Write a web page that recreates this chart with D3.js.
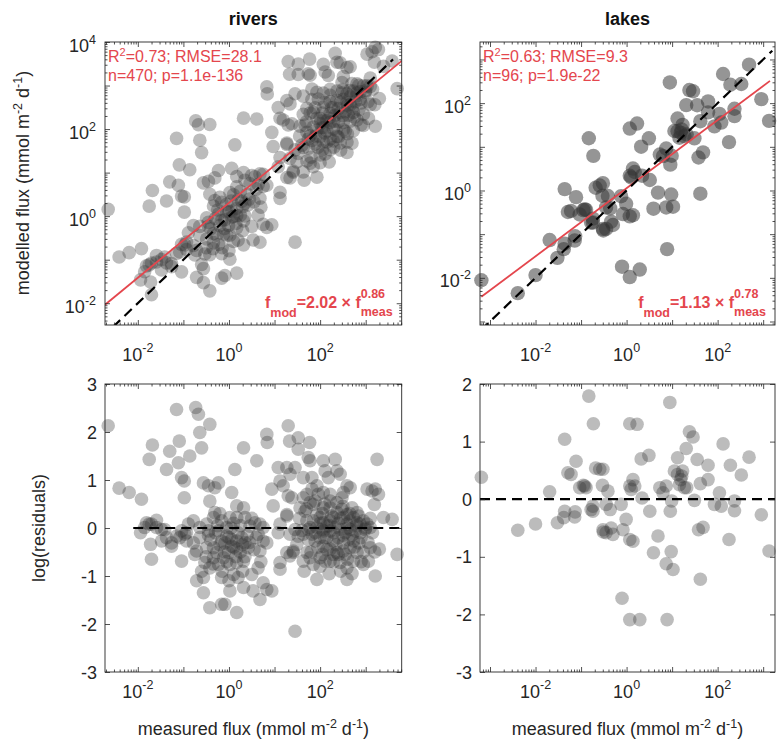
<!DOCTYPE html>
<html><head><meta charset="utf-8">
<script src="https://cdn.jsdelivr.net/npm/d3@7/dist/d3.min.js"></script>
<style>
body{margin:0;background:#fff}
text{font-family:"Liberation Sans",Arial,Helvetica,sans-serif}
</style>
</head><body>
<svg id="chart" width="784" height="747"></svg>
<script>
// ---------------- data (log10 of measured flux, log10 residual to fit) ----------------
const panelTitles = ["rivers", "lakes"];
const fitA = [2.02, 1.13];
const fitB = [0.86, 0.78];
const r2Text = ["0.73", "0.63"];
const rmseText = ["28.1", "9.3"];
const nText = ["470", "96"];
const pText = ["1.1e-136", "1.9e-22"];
const xTickExp = [-2, 0, 2];
const yFluxTickExp = [[-2, 0, 2, 4], [-2, 0, 2]];
const yResTicks = [[-3, -2, -1, 0, 1, 2, 3], [-3, -2, -1, 0, 1, 2]];

const riversPoints = [
[-2.65,2.13],[-2.41,0.83],[-2.19,0.74],[-1.92,0.60],[-1.94,-0.10],[-1.75,1.43],[-1.68,1.73],[-1.75,0.08],[-1.72,-0.34],[-1.70,-0.65],
[-1.59,0.16],[-1.48,-0.03],[-1.37,1.22],[-1.30,1.60],[-1.26,-0.31],[-1.15,2.47],[-1.11,1.36],[-1.09,1.81],[-1.04,1.05],[-0.98,0.98],
[-0.98,0.63],[-1.08,-0.20],[-1.04,-0.69],[-0.89,0.08],[-0.86,1.50],[-0.97,-0.13],[-0.73,2.51],[-0.67,2.37],[-0.64,1.99],[-0.60,1.67],
[-0.42,2.16],[-0.56,0.94],[-0.45,0.88],[-0.31,0.84],[-0.23,0.94],[-0.42,0.56],[0.06,0.74],[0.13,1.22],[0.32,1.67],[0.61,1.40],
[0.83,1.95],[0.84,1.78],[0.94,0.81],[0.97,0.46],[1.30,2.13],[1.33,1.81],[1.52,1.88],[1.77,1.78],[1.52,1.64],[1.08,1.26],
[1.12,0.98],[1.27,1.26],[1.34,1.12],[1.45,1.26],[1.63,1.05],[1.74,1.47],[1.78,1.40],[1.82,1.05],[1.19,0.88],[1.30,0.67],
[1.38,0.63],[1.27,0.28],[2.07,1.40],[2.11,1.19],[2.18,1.05],[2.33,1.43],[2.37,1.19],[2.44,1.12],[1.93,0.88],[2.07,0.74],
[2.22,0.70],[2.48,0.63],[2.59,0.88],[2.66,0.84],[2.51,0.74],[3.03,0.81],[3.14,0.77],[3.21,0.81],[3.25,1.43],[3.19,0.49],
[3.28,0.70],[3.39,0.22],[3.58,0.18],[3.69,-0.55],[3.21,-1.00],[3.30,-0.44],[3.10,-0.41],[2.95,-0.76],[2.59,-1.07],[1.93,-1.07],
[1.45,-2.15],[1.12,-0.86],[1.12,-0.72],[3.06,-0.69],
[-0.56,-1.03],[-0.71,-1.10],[-0.56,-1.35],[-0.42,-1.66],[-0.16,-1.59],[-0.09,-1.59],[0.17,-1.76],[0.02,-1.31],[0.32,-1.24],[0.20,-1.03],
[0.10,-0.97],[0.50,-0.97],[0.53,-1.31],[0.68,-1.49],[0.64,-0.83],[0.75,-1.14],[0.83,-1.28],[0.94,-1.31],[-0.42,-0.83],[-0.53,-0.72],
[-0.75,-0.55],[-0.71,-0.48],[-0.49,-0.41],[-0.34,-0.62],[-0.23,-0.76],[-0.16,-1.03],[-0.12,-0.62],[-0.01,-0.51],[0.02,-0.76],[-0.09,-0.31],
[-0.16,-0.27],[-0.05,-0.17],[0.06,-0.24],[0.17,-0.27],[0.28,-0.20],[0.35,-0.31],[0.42,-0.41],[0.17,-0.44],[0.06,-0.38],[-0.05,0.01],
[-0.16,0.15],[0.02,0.22],[0.17,0.22],[0.32,0.42],[0.17,0.46],[0.35,0.22],[0.46,0.04],[0.57,0.11],[0.68,0.08],[0.75,0.01],
[0.64,-0.13],[0.75,-0.27],[0.68,-0.48],[0.83,-0.31],[-0.49,0.08],[-0.45,-0.06],[-0.34,0.22],[-0.31,0.32],[-0.23,-0.06],[-0.64,0.01],
[-0.64,-0.20],[-0.78,-0.31],[-0.93,-0.27],[-1.04,-0.06],[-1.26,-0.38],[-1.37,-0.20],[-1.48,-0.27],[-1.70,0.08],[-1.81,0.11],[-1.85,0.01],
[-1.59,0.01],[-1.41,-0.03],[-1.15,-0.17],[-0.93,-0.10],[-0.78,0.15],[0.17,-0.72],[0.32,-0.69],[-0.34,-0.41],[-0.27,-0.51],
[1.08,-0.10],[1.12,0.08],[1.27,0.25],[1.34,-0.13],[1.41,-0.48],[1.34,-0.58],[1.49,-0.34],[1.56,0.42],[1.63,0.63],[1.67,0.35],
[1.71,0.15],[1.78,0.01],[1.85,0.49],[1.89,0.56],[1.93,0.28],[2.00,0.22],[2.07,0.11],[1.82,-0.13],[1.89,-0.27],[2.00,-0.20],
[2.07,-0.06],[2.15,0.04],[2.22,0.15],[2.29,0.22],[2.37,0.32],[2.48,0.39],[2.51,0.22],[2.59,0.08],[2.66,0.15],[2.73,0.22],
[2.81,0.11],[2.88,0.08],[2.95,0.15],[3.03,0.08],[2.22,-0.06],[2.33,0.01],[2.44,-0.03],[2.55,-0.10],[2.66,-0.03],[2.77,-0.06],
[2.88,-0.10],[2.99,-0.03],[3.10,0.01],[2.15,-0.20],[2.29,-0.27],[2.40,-0.20],[2.51,-0.31],[2.62,-0.24],[2.73,-0.27],[2.85,-0.31],
[2.07,-0.38],[2.22,-0.44],[2.37,-0.51],[2.51,-0.48],[2.66,-0.41],[2.81,-0.51],[2.00,-0.62],[2.11,-0.69],[2.29,-0.55],[1.71,-0.51],
[1.78,-0.62],[1.63,-0.69],[1.41,-0.51],[1.27,-0.51],[1.85,-0.76],[2.22,-0.69],[2.44,-0.72],[2.59,-0.83],[2.73,-0.69],[1.93,0.01],
[2.04,-0.03],[1.74,-0.03],[1.63,-0.13],[1.52,-0.17],[1.45,-0.03],[2.07,0.42],[2.22,0.42],[2.37,0.53],[2.70,0.42],[2.59,0.28],
[2.81,0.32],[1.78,0.53],[1.71,0.70],[1.82,0.81],[1.96,0.70],[2.22,0.56],
[-0.30,-0.10],[-0.20,-0.35],[-0.10,-0.50],[0.00,-0.20],[0.10,-0.40],[0.20,-0.10],[0.30,-0.35],[0.40,-0.15],[-0.25,0.05],[0.05,0.00],
[0.15,-0.60],[0.25,-0.50],[-0.40,-0.25],[-0.05,-0.70],[0.35,-0.60],[0.45,-0.30],[0.55,-0.45],[0.60,-0.20],[-0.15,-0.90],[-0.35,-0.75],
[0.00,-1.10],[0.30,-0.90],[-0.50,-0.60],[-0.60,-0.90],[0.70,-0.70],[0.10,0.10],[-0.20,0.30],[0.25,0.05],[-0.45,-0.15],[0.50,0.20],
[1.90,-0.10],[2.00,0.10],[2.10,-0.20],[2.20,0.05],[2.30,-0.10],[2.40,0.10],[2.50,-0.15],[2.60,0.00],[2.70,-0.15],[2.80,0.05],
[2.90,-0.20],[3.00,0.00],[1.95,-0.40],[2.15,-0.45],[2.35,-0.35],[2.55,-0.55],[2.75,-0.40],[2.95,-0.50],[2.05,0.30],[2.25,0.25],
[2.45,0.20],[2.65,0.30],[2.85,0.25],[1.85,0.15],[1.75,-0.25],[1.80,-0.50],[2.00,-0.80],[2.30,-0.70],[2.60,-0.65],[2.90,-0.70],
[3.05,-0.30],[3.15,-0.10],[1.60,-0.05],[1.55,0.20],[1.70,0.40],[2.10,0.50],[2.50,0.45],[2.20,-0.95],[2.45,-0.90],[2.70,-0.95],
[1.65,-0.90],[3.10,0.20],[3.20,-0.50],[2.05,-0.55],[2.40,-0.55]
];

const lakesPoints = [
[-3.19,0.38],[-2.39,-0.54],[-2.00,-0.43],[-1.69,0.13],[-1.52,-0.41],[-1.38,-0.32],[-1.36,1.04],[-1.14,-0.31],[-1.13,-0.22],[-1.36,-0.21],
[-1.29,0.46],[-1.22,0.43],[-1.11,0.66],[-1.03,0.20],[-0.92,0.23],[-0.89,0.20],[-0.83,1.79],[-0.73,1.31],[-0.68,0.54],[-0.59,0.52],
[-0.52,0.52],[-0.74,-0.12],[-0.74,-0.21],[-0.53,0.24],[-0.41,0.14],[-0.45,-0.09],[-0.36,-0.18],[-0.52,-0.53],[-0.45,-0.58],[-0.30,-0.61],
[-0.12,-0.09],[-0.08,-0.53],[-0.01,-0.35],[0.07,-0.70],[0.14,-0.73],[0.10,0.17],[0.14,0.34],[0.07,0.23],[0.18,0.23],[0.07,1.31],
[0.23,1.30],[-0.10,-1.72],[0.07,-2.09],[0.29,-2.09],[0.32,0.70],[0.49,0.76],[0.34,0.02],[0.51,-0.21],[0.69,-0.64],[0.59,-0.93],
[0.73,0.20],[0.80,0.11],[0.87,0.23],[0.95,1.68],[0.96,-0.21],[0.99,-0.03],[0.98,-0.91],[0.87,-1.12],[1.02,-1.22],[0.89,-2.09],
[1.05,0.49],[1.12,0.72],[1.16,0.25],[1.23,0.49],[1.19,0.34],[1.27,0.20],[1.31,0.88],[1.38,1.17],[1.46,1.08],[1.49,-0.02],
[1.55,0.69],[1.62,0.27],[1.58,-0.53],[1.68,-0.49],[1.62,-1.39],[1.79,0.59],[1.79,0.34],[1.93,-0.09],[2.04,0.11],[2.08,-0.12],
[2.12,0.96],[2.28,0.59],[2.25,-0.70],[2.37,-0.03],[2.37,-0.20],[2.52,0.42],[2.69,0.73],[2.96,-0.27],[3.13,-0.90],[-0.34,-0.50],
[1.12,0.43],[-0.95,0.24],[-0.78,-0.18],[-0.51,-0.57],[1.21,0.40],[1.32,0.20]
];
const pointSets = [riversPoints, lakesPoints];

// ---------------- layout ----------------
const svg = d3.select("#chart");
const RED = "#e4464d";
const INK = "#262626";
const colX = [[105, 401.7], [480, 775]];
const rowTop = [42, 325];
const rowBot = [384, 672];
const xDom = [[-2.72, 3.79], [-3.22, 3.26]];
const yTopDom = [[-2.5, 4.0], [-3.08, 3.4]];
const yBotDom = [[-3, 3], [-3, 2]];
const oneToOne = [[-2.8, 3.6], [-3.2, 3.2]];
const fitSpan = [[-2.72, 3.79], [-3.19, 3.15]];
const zeroSpan = [[-2.1, 3.79], [-3.22, 3.26]];
const topAlpha = [0.33, 0.52];
const botAlpha = [0.32, 0.33];

function rich(parent, x, y, parts, o) {
  const t = parent.append("text").attr("x", x).attr("y", y)
    .attr("font-size", o.size).attr("text-anchor", o.anchor || "start")
    .attr("fill", o.fill || INK);
  if (o.weight) t.attr("font-weight", o.weight);
  if (o.rotate) t.attr("transform", `rotate(-90,${x},${y})`);
  let cur = 0;
  parts.forEach(([s, k]) => {
    const off = k === 1 ? -o.sup : (k === -1 ? o.sub : 0);
    t.append("tspan").attr("dy", off - cur).attr("font-size", k ? o.small : o.size).text(s);
    cur = off;
  });
  return t;
}

function decadeTicks(d) {
  const major = [], minor = [];
  for (let k = Math.floor(d[0]) - 1; k <= Math.ceil(d[1]); k++) {
    if (k >= d[0] && k <= d[1]) major.push(Math.pow(10, k));
    for (let m = 2; m <= 9; m++) {
      const v = Math.log10(m) + k;
      if (v >= d[0] && v <= d[1]) minor.push(Math.pow(10, v));
    }
  }
  return { major, minor };
}

function drawTicks(g, scale, orient, pos, values, len) {
  const ax = (orient === "bottom" ? d3.axisBottom : orient === "top" ? d3.axisTop :
              orient === "left" ? d3.axisLeft : d3.axisRight)(scale)
    .tickValues(values).tickSize(-len).tickFormat("");
  const tr = (orient === "bottom" || orient === "top") ? `translate(0,${pos})` : `translate(${pos},0)`;
  const a = g.append("g").attr("transform", tr).call(ax);
  a.select(".domain").remove();
  a.selectAll("line").attr("stroke", INK).attr("stroke-width", 0.8);
}

function frame(g, xs, ys, xd, yd, yIsLog, yTicksLin) {
  const [x0, x1] = xs.range(), [y1, y0] = ys.range();
  const xt = decadeTicks(xd);
  [["bottom", y1], ["top", y0]].forEach(([o, p]) => {
    drawTicks(g, xs, o, p, xt.major, 5);
    drawTicks(g, xs, o, p, xt.minor, 2.5);
  });
  [["left", x0], ["right", x1]].forEach(([o, p]) => {
    if (yIsLog) {
      const yt = decadeTicks(yd);
      drawTicks(g, ys, o, p, yt.major, 5);
      drawTicks(g, ys, o, p, yt.minor, 2.5);
    } else {
      drawTicks(g, ys, o, p, yTicksLin, 5);
    }
  });
  g.append("rect").attr("x", x0).attr("y", y0).attr("width", x1 - x0).attr("height", y1 - y0)
    .attr("fill", "none").attr("stroke", INK).attr("stroke-width", 0.9);
}

const lab = { size: 18, small: 12.5, sup: 8 };

[0, 1].forEach(i => {
  const pts = pointSets[i];
  const xd = xDom[i];
  const xs = d3.scaleLog().domain([Math.pow(10, xd[0]), Math.pow(10, xd[1])]).range(colX[i]);
  const ysT = d3.scaleLog().domain([Math.pow(10, yTopDom[i][0]), Math.pow(10, yTopDom[i][1])]).range([rowTop[1], rowTop[0]]);
  const ysB = d3.scaleLinear().domain(yBotDom[i]).range([rowBot[1], rowBot[0]]);
  const a = fitA[i], b = fitB[i];
  const fitLog = x => Math.log10(a) + b * x;
  const inside = (v, d) => v >= d[0] && v <= d[1];

  // ----- top panel -----
  const gT = svg.append("g");
  const cid = "clipT" + i;
  svg.append("clipPath").attr("id", cid).append("rect")
    .attr("x", colX[i][0]).attr("y", rowTop[0])
    .attr("width", colX[i][1] - colX[i][0]).attr("height", rowTop[1] - rowTop[0]);

  gT.append("g").selectAll("circle")
    .data(pts.filter(d => inside(d[0], xd) && inside(fitLog(d[0]) + d[1], yTopDom[i])))
    .join("circle")
    .attr("cx", d => xs(Math.pow(10, d[0])))
    .attr("cy", d => ysT(Math.pow(10, fitLog(d[0]) + d[1])))
    .attr("r", i === 0 ? 6.8 : 7.2)
    .attr("fill", "#333").attr("fill-opacity", topAlpha[i]);

  const lineT = d3.line().x(d => xs(d[0])).y(d => ysT(d[1]));
  gT.append("path").attr("clip-path", `url(#${cid})`)
    .attr("d", lineT(fitSpan[i].map(x => [Math.pow(10, x), Math.pow(10, fitLog(x))])))
    .attr("stroke", RED).attr("stroke-width", 1.8).attr("fill", "none");
  gT.append("path").attr("clip-path", `url(#${cid})`)
    .attr("d", lineT(oneToOne[i].map(x => [Math.pow(10, x), Math.pow(10, x)])))
    .attr("stroke", "#000").attr("stroke-width", 2.2).attr("stroke-dasharray", "10,6").attr("fill", "none");

  frame(gT, xs, ysT, xd, yTopDom[i], true);

  // tick labels
  xTickExp.forEach(k => {
    rich(gT, xs(Math.pow(10, k)), 361, [["10", 0], [String(k), 1]],
      Object.assign({ anchor: "middle" }, lab, { sup: 9 }));
  });
  yFluxTickExp[i].forEach(k => {
    rich(gT, colX[i][0] - 9, ysT(Math.pow(10, k)) + 9.5, [["10", 0], [String(k), 1]],
      Object.assign({ anchor: "end" }, lab, { sup: 8 }));
  });

  // title
  gT.append("text").attr("x", (colX[i][0] + colX[i][1]) / 2).attr("y", 25)
    .attr("text-anchor", "middle").attr("font-size", 18).attr("font-weight", "bold")
    .attr("fill", "#111").text(panelTitles[i]);

  // stats
  rich(gT, colX[i][0] + 3, 62, [["R", 0], ["2", 1], ["=" + r2Text[i] + "; RMSE=" + rmseText[i], 0]],
    { size: 16, small: 11, sup: 6, fill: RED });
  gT.append("text").attr("x", colX[i][0] + 3).attr("y", 81).attr("font-size", 16)
    .attr("fill", RED).text("n=" + nText[i] + "; p=" + pText[i]);

  // formula
  const fg = gT.append("g").attr("fill", RED).attr("font-weight", "bold");
  const pieces = [
    { s: "f", size: 16, dy: 0 },
    { s: "mod", size: 12.5, dy: 8.5 },
    { s: "=" + a.toFixed(2) + " \u00d7 f", size: 16, dy: 0 },
  ];
  const els = pieces.map(p => fg.append("text").attr("font-size", p.size).text(p.s));
  const sup = fg.append("text").attr("font-size", 12.5).text(b.toFixed(2));
  const sub = fg.append("text").attr("font-size", 12.5).text("meas");
  const widths = els.map(e => e.node().getComputedTextLength());
  const stackW = Math.max(sup.node().getComputedTextLength(), sub.node().getComputedTextLength());
  const total = d3.sum(widths) + stackW;
  let xc = colX[i][1] - 9 - total;
  const base = 308;
  els.forEach((e, j) => { e.attr("x", xc).attr("y", base + pieces[j].dy); xc += widths[j]; });
  sup.attr("x", xc).attr("y", base - 10);
  sub.attr("x", xc).attr("y", base + 8);

  // ----- bottom panel -----
  const gB = svg.append("g");
  const cidB = "clipB" + i;
  svg.append("clipPath").attr("id", cidB).append("rect")
    .attr("x", colX[i][0]).attr("y", rowBot[0])
    .attr("width", colX[i][1] - colX[i][0]).attr("height", rowBot[1] - rowBot[0]);

  gB.append("g").selectAll("circle")
    .data(pts.filter(d => inside(d[0], xd) && inside(d[1], yBotDom[i])))
    .join("circle")
    .attr("cx", d => xs(Math.pow(10, d[0])))
    .attr("cy", d => ysB(d[1]))
    .attr("r", 6.8)
    .attr("fill", "#333").attr("fill-opacity", botAlpha[i]);

  gB.append("path").attr("clip-path", `url(#${cidB})`)
    .attr("d", d3.line().x(d => xs(d[0])).y(d => ysB(d[1]))(zeroSpan[i].map(x => [Math.pow(10, x), 0])))
    .attr("stroke", "#000").attr("stroke-width", 2.2).attr("stroke-dasharray", "10,6").attr("fill", "none");

  frame(gB, xs, ysB, xd, yBotDom[i], false, yResTicks[i]);

  xTickExp.forEach(k => {
    rich(gB, xs(Math.pow(10, k)), 698, [["10", 0], [String(k), 1]],
      Object.assign({ anchor: "middle" }, lab, { sup: 9 }));
  });
  yResTicks[i].forEach(v => {
    gB.append("text").attr("x", colX[i][0] - 8).attr("y", ysB(v) + 6.5)
      .attr("text-anchor", "end").attr("font-size", 18).attr("fill", INK).text(v);
  });

  // x label
  rich(gB, (colX[i][0] + colX[i][1]) / 2, 735,
    [["measured flux (mmol m", 0], ["-2", 1], [" d", 0], ["-1", 1], [")", 0]],
    { size: 18, small: 12.5, sup: 7, anchor: "middle" });
});

// y labels
rich(svg, 29, 183, [["modelled flux (mmol m", 0], ["-2", 1], [" d", 0], ["-1", 1], [")", 0]],
  { size: 18, small: 12.5, sup: 7, anchor: "middle", rotate: true });
rich(svg, 45, 528, [["log(residuals)", 0]], { size: 18, small: 12, sup: 7, anchor: "middle", rotate: true });
</script>
</body></html>
